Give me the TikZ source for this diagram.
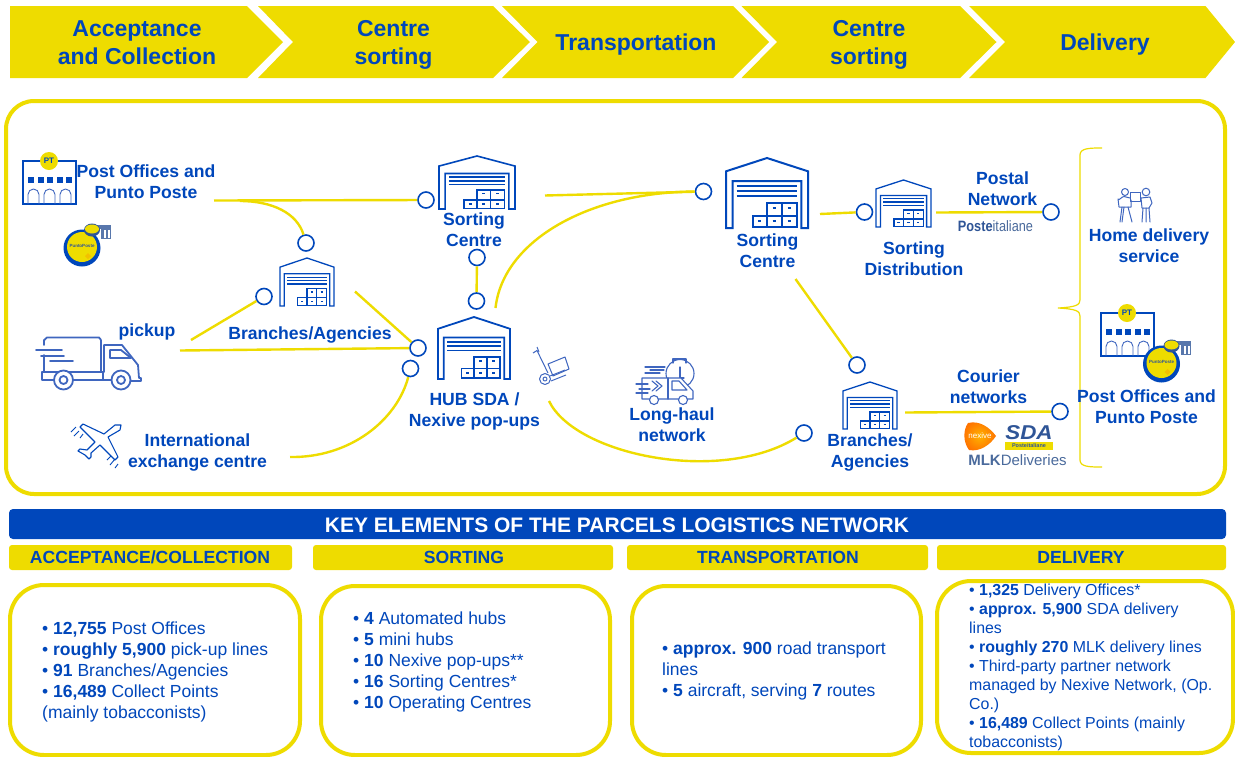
\documentclass[tikz,border=0pt]{standalone}
\usepackage{fontspec}
\usepackage{graphicx}
\setmainfont{Liberation Sans}
\definecolor{pblue}{HTML}{0047BB}
\definecolor{pyel}{HTML}{EEDC00}
\definecolor{iconblue}{HTML}{3F66BF}
\definecolor{logoblue}{HTML}{2F5597}
\definecolor{slate}{HTML}{4A6A9C}
\newcommand\lblfont{\fontsize{17.6}{21}\selectfont\bfseries}
\newcommand\bandfont{\fontsize{23}{28}\selectfont\bfseries}
\newcommand\bodyfont{\fontsize{17.5}{21.1}\selectfont}
\newcommand\bodysmall{\fontsize{15.9}{19}\selectfont}
\tikzset{
  lab/.style={font=\lblfont,text=pblue,align=center,inner sep=0pt},
  bandlab/.style={font=\bandfont,text=pblue,align=center,inner sep=0pt},
  bodytext/.style={font=\bodyfont,text=pblue,align=left,inner sep=0pt,anchor=west},
  bodytextsmall/.style={font=\bodysmall,text=pblue,align=left,inner sep=0pt,anchor=west},
  hub/.style={circle,draw=pblue,fill=white,line width=1.6pt,minimum size=16pt,inner sep=0pt},
  link/.style={draw=pyel,line width=2.4pt},
  band/.style={fill=pyel},
  panel/.style={draw=pyel,line width=4pt,fill=white},
  header/.style={fill=pyel,rounded corners=3pt},
  headlab/.style={font=\lblfont,text=pblue,inner sep=0pt},
  icon/.style={draw=iconblue,line width=1.8pt,line join=round,line cap=round},
}
% warehouse icon: left, top, width, height, line width
\newcommand\whicon[5]{%
\begin{scope}[shift={(#1,#2)},x=#3pt,y=-#4pt,draw=pblue,line width=#5pt,line join=miter]
  \draw (0,1)--(0,.19)--(.5,0)--(1,.19)--(1,1)--(.92,1)--(.92,.33)--(.08,.33)--(.08,1)--cycle;
  \foreach \yy in {.40,.47,.54}{\draw (.13,\yy)--(.87,\yy);}
  \draw (.325,.83) rectangle (.5,.99);
  \draw (.5,.83) rectangle (.68,.99);
  \draw (.68,.83) rectangle (.86,.99);
  \draw (.5,.64) rectangle (.68,.83);
  \draw (.68,.64) rectangle (.86,.83);
  \foreach \xx/\yy in {.41/.90,.59/.90,.77/.90,.59/.71,.77/.71}{\draw (\xx-.02,\yy)--(\xx+.02,\yy);}
\end{scope}}
% post office icon: left, top
\newcommand\posticon[2]{%
\begin{scope}[shift={(#1,#2)}]
  \draw[pblue,line width=1.3pt] (0,0) rectangle (53,43);
  \foreach \xx in {5,14.5,24,33.5,43}{\fill[pblue] (\xx,16) rectangle ++(6,6);}
  \foreach \xx in {5,21,37}{\draw[iconblue,line width=.9pt] (\xx,43)--(\xx,33.5) arc[start angle=180,end angle=360,radius=5.5]--(\xx+11,43);}
  \fill[pyel] (26,0) circle (9);
  \node[font=\fontsize{8}{9}\selectfont\bfseries,text=pblue,inner sep=0pt] at (26,-.5) {PT};
\end{scope}}
% Punto Poste badge: centre
\newcommand\badge[2]{%
\begin{scope}[shift={(#1,#2)}]
  \fill[logoblue!80] (8,-23) rectangle (29,-19);
  \fill[logoblue!80] (19,-23) rectangle (29,-9);
  \fill[white] (22,-18) rectangle (24,-10);
  \fill[white] (26,-18) rectangle (28,-10);
  \fill[white] (15,-17) rectangle (18,-10);
  \fill[pblue] (0,0) circle (18.5);
  \fill[pyel] (0,-1) circle (15);
  \fill[logoblue] (10,-18) ellipse (8 and 6.5);
  \fill[pyel] (10,-19) ellipse (7 and 4.5);
  \node[font=\fontsize{4.5}{5}\selectfont\bfseries,text=logoblue,inner sep=0pt] at (0,-2) {PuntoPoste};
  \fill[pyel!70!orange] (6,5) -- (9,8) -- (6,11) -- (3,8) -- cycle;
\end{scope}}
\begin{document}
\begin{tikzpicture}[x=1pt,y=-1pt]
\useasboundingbox (0,0) rectangle (1235,756);
% top band
\fill[band] (10,6)--(247,6)--(283,42)--(247,78)--(10,78)--cycle;
\fill[band] (258,6)--(493,6)--(530,42)--(493,78)--(258,78)--(293,42)--cycle;
\fill[band] (502,6)--(733,6)--(769,42)--(733,78)--(502,78)--(537.5,42)--cycle;
\fill[band] (741.5,6)--(960,6)--(996.5,42)--(960,78)--(741.5,78)--(777,42)--cycle;
\fill[band] (969,6)--(1205.5,6)--(1235,42)--(1205.5,78)--(969,78)--(1005,42)--cycle;
\node[bandlab] (b1) at (137,43) {Acceptance\\and Collection};
\node[bandlab] (b2) at (393.5,45) {Centre\\sorting};
\node[bandlab] (b3) at (636,44.5) {Transportation};
\node[bandlab] (b4) at (869,45) {Centre\\sorting};
\node[bandlab] (b5) at (1105,44.5) {Delivery};
% main panel
\draw[panel,rounded corners=28pt] (6,101) rectangle (1225,494);
% brace
\draw[pyel,line width=1.2pt] (1102,148) .. controls (1090,148) and (1080,148) .. (1080,155) -- (1080,300) .. controls (1080,305) and (1076,307) .. (1058,308) .. controls (1076,309) and (1080,311) .. (1080,316) -- (1080,460) .. controls (1080,467) and (1090,467) .. (1102,467);
% hubs
\node[hub] (c1) at (306,243) {};
\node[hub] (c2) at (264,296.5) {};
\node[hub] (c3) at (426,200) {};
\node[hub] (c4) at (418,348) {};
\node[hub] (c5) at (410.5,368.5) {};
\node[hub] (c6) at (477,257.5) {};
\node[hub] (c7) at (476.5,301) {};
\node[hub] (c8) at (703.5,191.5) {};
\node[hub] (c9) at (804,433) {};
\node[hub] (c10) at (857,365) {};
\node[hub] (c11) at (864.5,212) {};
\node[hub] (c12) at (1051,212) {};
\node[hub] (c13) at (1060,411.5) {};
% free ends
\coordinate (f1) at (214,200.5);
\coordinate (f2) at (240,201);
\coordinate (f3) at (191,340);
\coordinate (f4) at (355,291.5);
\coordinate (f5) at (180,350.5);
\coordinate (f6) at (290,457);
\coordinate (f7) at (545,195.5);
\coordinate (f8) at (495.5,308);
\coordinate (f9) at (549,401);
\coordinate (f10) at (795.5,279);
\coordinate (f11) at (820,214);
\coordinate (f12) at (936,212.5);
\coordinate (f13) at (905,412.5);
% connectors
\draw[link] (f1) -- (c3);
\draw[link] (f2) .. controls (272,201) and (297,213) .. (c1);
\draw[link] (f3) -- (c2);
\draw[link] (f4) -- (c4);
\draw[link] (f5) -- (c4);
\draw[link] (f6) .. controls (350,458) and (397,420) .. (c5);
\draw[link] (c6) -- (c7);
\draw[link] (f7) -- (c8);
\draw[link] (f8) .. controls (503,240) and (590,192) .. (c8);
\draw[link] (f9) .. controls (575,455) and (720,485) .. (c9);
\draw[link] (f10) -- (c10);
\draw[link] (f11) -- (c11);
\draw[link] (f12) -- (c12);
\draw[link] (f13) -- (c13);
% warehouses
\whicon{280}{258}{54}{48}{1.3}
\whicon{439}{156}{76}{53}{1.6}
\whicon{438}{317}{72}{62}{1.8}
\whicon{726}{158}{82}{70}{2}
\whicon{876}{180}{55}{47}{1.3}
\whicon{843}{382}{54}{47}{1.3}
% post offices
\posticon{23}{161}
\badge{82}{248}
\posticon{1101}{313}
\badge{1161.5}{364}
% truck
\draw[icon] (44,345)--(44,340) to[out=-90,in=180] (47,337.5)--(99,337.5) to[out=0,in=-90] (101,340)--(101,372);
\draw[icon] (44,355)--(44,372);
\draw[icon] (36,350)--(62,350) (41,356)--(64,356) (50,361)--(73,361);
\draw[icon] (53,380)--(42,380)--(42,372)--(103,372)--(103,380) (73,380)--(111,380);
\draw[icon] (104,372)--(104,345)--(122,345)--(138,365)--(139,378)--(141,378)--(141,381)--(131,381);
\draw[icon] (110,350)--(121,350)--(131,358)--(110,358)--cycle;
\foreach \wx in {63.5,121}{\draw[icon,fill=white] (\wx,380) circle (9.5); \draw[icon] (\wx,380) circle (4);}
% plane
\draw[pblue,line width=1.1pt,line join=round] (121,425)--(115,425)--(104,434)--(83,424)--(80,427)--(95,442)--(87,450)--(80,449)--(78,451)--(85,455)--(89,459)--(91,457)--(91,453)--(100,445)--(115,460)--(118,457)--(108,437)--(120,430)--cycle;
\draw[pblue,line width=.9pt] (71,432)--(76,427) (74,436)--(79,431) (80,438)--(83,434) (107,460)--(111,456) (110,465)--(115,459) (115,468)--(118,464);
% hand truck
\begin{scope}[iconblue,line width=1pt,line join=round]
  \draw (533,353)--(537,350.5)--(548,373);
  \draw (537,347)--(539,352);
  \draw (545,379) circle (5.5);
  \draw (545,379) circle (2);
  \draw (551,381)--(566,375) (550,376)--(565,370);
  \draw (548,364)--(565,357)--(569,369)--(553,376)--cycle;
\end{scope}
% long-haul truck
\begin{scope}[iconblue,line width=1.1pt,line join=round,line cap=round]
  \draw (680,373.5) circle (14);
  \draw (673,363)--(673,359)--(686,359)--(686,363);
  \draw (680,367)--(680,378)--(684,378);
  \draw[fill=white] (642,378)--(681,378)--(693,391)--(693,399)--(642,399)--cycle;
  \draw (668,378)--(668,399);
  \draw (672,381)--(679,381)--(687,390)--(672,390)--cycle;
  \draw (652,381)--(658,386)--(652,391) (656,381)--(662,386)--(656,391);
  \draw (645,367)--(665,367) (650,370)--(664,370) (645,373)--(660,373);
  \draw (636,384)--(648,384) (639,389)--(650,389) (636,393)--(648,393);
  \draw[fill=white] (654,400) circle (4.5);
  \draw[fill=white] (683,400) circle (4.5);
\end{scope}
% home delivery icon
\begin{scope}[iconblue,line width=1pt,line join=round,line cap=round]
  \draw (1125,192) circle (3.5);
  \draw (1146,192) circle (3.8);
  \draw (1120,222)--(1122,207) (1128,207)--(1132,222) (1124,207)--(1122,222);
  \draw (1119,207)--(1118,199) to[out=-70,in=180] (1124,196.5)--(1130,198) (1119,207)--(1131,207)--(1131,200);
  \draw (1130,192) rectangle (1140,201);
  \draw (1141,198)--(1150,197)--(1152,203)--(1149,208)--(1142,208)--(1141,198);
  \draw (1143,208)--(1142,222) (1146,208)--(1146,222) (1149,208)--(1150,222);
\end{scope}
% labels
\node[lab] (t1) at (146,182) {Post Offices and\\Punto Poste};
\node[lab] (t2) at (147,331.5) {pickup};
\node[lab] (t3) at (310,334.5) {Branches/Agencies};
\node[lab] (t4) at (197.5,452) {International\\exchange centre};
\node[lab] (t5) at (474,229.5) {Sorting\\Centre};
\node[lab] (t6) at (474.5,411) {HUB SDA /\\Nexive pop-ups};
\node[lab] (t7) at (672,425) {Long-haul\\network};
\node[lab] (t8) at (767.5,250.5) {Sorting\\Centre};
\node[lab] (t9) at (914,259) {Sorting\\Distribution};
\node[lab] (t10) at (1002.5,189) {Postal\\Network};
\node[lab] (t11) at (988.5,386.5) {Courier\\networks};
\node[lab] (t12) at (870,452.5) {Branches/\\Agencies};
\node[lab] (t13) at (1149,245.5) {Home delivery\\service};
\node[lab] (t14) at (1146.5,407) {Post Offices and\\Punto Poste};
% logos
\node[inner sep=0pt,font=\fontsize{15}{16}\selectfont,text=logoblue] (l1) at (995.5,226) {\scalebox{.85}[1]{\textbf{Poste}\textcolor{slate}{italiane}}};
\shade[inner color=orange!60!yellow,outer color=orange!90!red] (968,423) .. controls (980,420) and (990,428) .. (996,436) .. controls (990,445) and (980,452) .. (969,450) .. controls (963,442) and (963,430) .. (968,423) -- cycle;
\node[inner sep=0pt,font=\fontsize{8}{9}\selectfont,text=white] (l2) at (980,436) {nexive};
\node[inner sep=0pt,font=\fontsize{20}{21}\selectfont\bfseries\itshape,text=logoblue] (l3) at (1029,433) {\scalebox{1.12}[1]{SDA}};
\fill[pyel] (1005,442) rectangle (1053,449.5);
\node[inner sep=0pt,font=\fontsize{5.5}{6}\selectfont\bfseries,text=logoblue] (l4) at (1029,445.8) {Posteitaliane};
\node[inner sep=0pt,font=\fontsize{15}{16}\selectfont,text=slate] (l5) at (1017.5,460) {\textbf{MLK}Deliveries};
% key elements
\fill[pblue,rounded corners=4pt] (9,509) rectangle (1226,539);
\node[font=\fontsize{21}{24}\selectfont\bfseries,text=white,inner sep=0pt] (k0) at (617,525) {KEY ELEMENTS OF THE PARCELS LOGISTICS NETWORK};
\fill[header] (9,545) rectangle (292,570);
\fill[header] (313,545) rectangle (613,570);
\fill[header] (627,545) rectangle (928,570);
\fill[header] (937,545) rectangle (1226,570);
\node[headlab] (k1) at (150,557.5) {ACCEPTANCE/COLLECTION};
\node[headlab] (k2) at (464,557.5) {SORTING};
\node[headlab] (k3) at (778,557.5) {TRANSPORTATION};
\node[headlab] (k4) at (1081,557.5) {DELIVERY};
\draw[panel,rounded corners=34pt] (10,585) rectangle (300,755);
\draw[panel,rounded corners=34pt] (321,586) rectangle (610,755);
\draw[panel,rounded corners=34pt] (632,586) rectangle (921,755);
\draw[panel,rounded corners=34pt] (937,581) rectangle (1233,753);
\node[bodytext] (p1) at (42,672) {• \textbf{12,755} Post Offices\\• \textbf{roughly 5,900} pick-up lines\\• \textbf{91} Branches/Agencies\\• \textbf{16,489} Collect Points\\(mainly tobacconists)};
\node[bodytext] (p2) at (353,662) {• \textbf{4} Automated hubs\\• \textbf{5} mini hubs\\• \textbf{10} Nexive pop-ups**\\• \textbf{16} Sorting Centres*\\• \textbf{10} Operating Centres};
\node[bodytext] (p3) at (662,671) {• \textbf{approx. 900} road transport\\lines\\• \textbf{5} aircraft, serving \textbf{7} routes};
\node[bodytextsmall] (p4) at (969,667.5) {• \textbf{1,325} Delivery Offices*\\• \textbf{approx. 5,900} SDA delivery\\lines\\• \textbf{roughly 270} MLK delivery lines\\• Third-party partner network\\managed by Nexive Network, (Op.\\Co.)\\• \textbf{16,489} Collect Points (mainly\\tobacconists)};
\end{tikzpicture}
\end{document}
